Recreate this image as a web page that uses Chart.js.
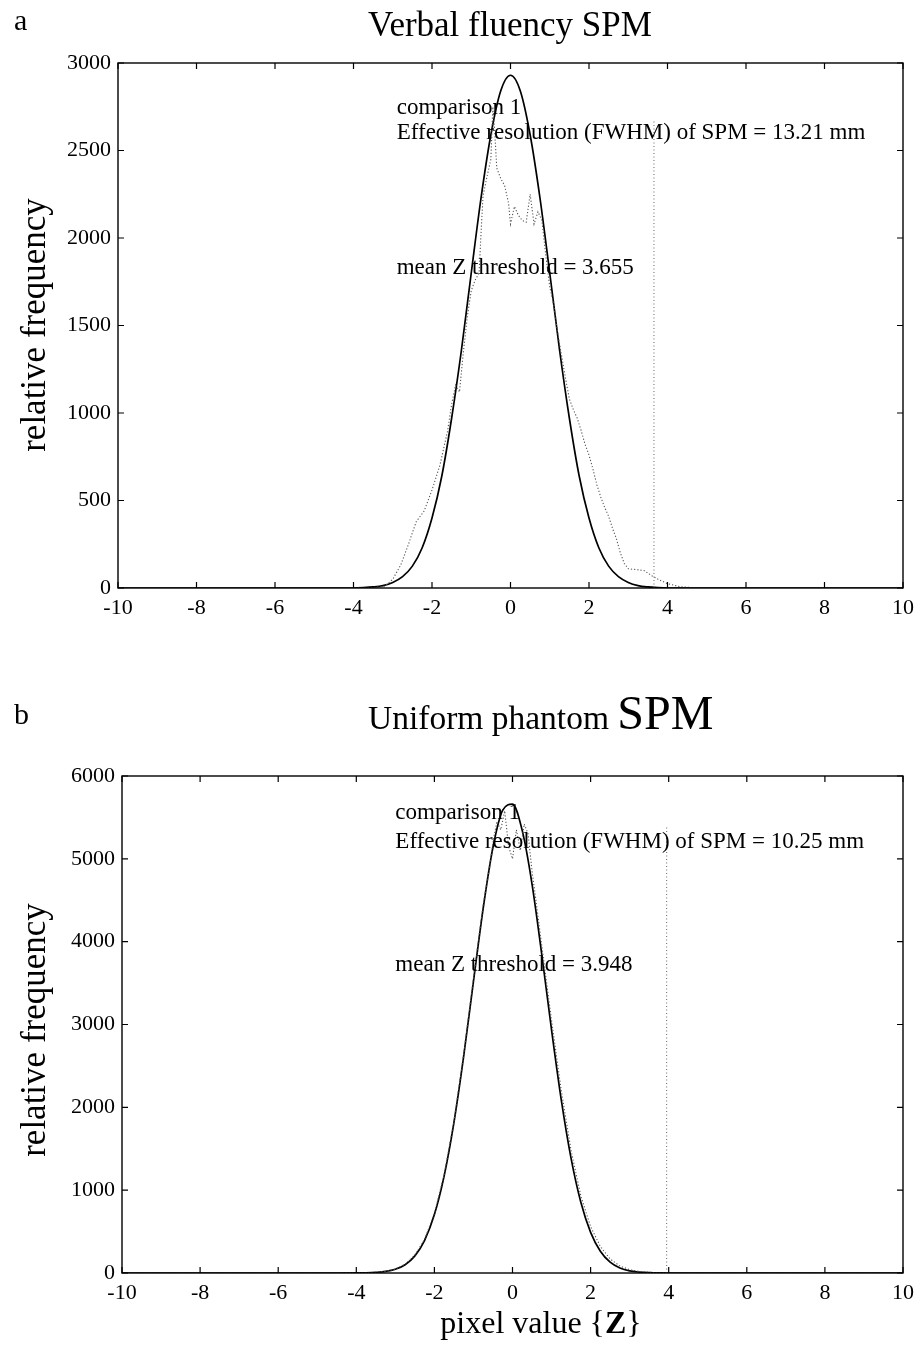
<!DOCTYPE html>
<html>
<head>
<meta charset="utf-8">
<script src="https://cdn.jsdelivr.net/npm/chart.js@4.4.1/dist/chart.umd.min.js"></script>
<style>
  body { margin: 0; background: #fff; }
  #page { position: relative; width: 921px; height: 1359px; background: #fff; font-family: "Liberation Serif", "DejaVu Serif", serif; color: #000; }
  canvas { position: absolute; left: 0; }
  .txt { position: absolute; white-space: nowrap; line-height: 1; }
  .ytitle { transform: translate(-50%, -50%) rotate(-90deg); font-size: 35px; }
</style>
</head>
<body>
<div id="page">
  <canvas id="chartA" width="921" height="640" style="top:0;width:921px;height:640px"></canvas>
  <canvas id="chartB" width="921" height="719" style="top:640px;width:921px;height:719px"></canvas>

  <div class="txt" style="left:14px;top:5px;font-size:30px">a</div>
  <div class="txt" style="left:368px;top:7px;font-size:35px">Verbal fluency SPM</div>
  <div class="txt ytitle" style="left:33px;top:325px">relative frequency</div>

  <div class="txt" style="left:14px;top:699px;font-size:30px">b</div>
  <div class="txt" style="left:368px;top:689px;font-size:33.5px">Uniform phantom <span style="font-size:48px">SPM</span></div>
  <div class="txt ytitle" style="left:33px;top:1030px">relative frequency</div>

  <div class="txt" style="left:541px;top:1322px;font-size:32px;transform:translate(-50%,-50%)">pixel value {<b>Z</b>}</div>
</div>
<script>
// x ticks shared by both panels
const zTicks = [-10, -8, -6, -4, -2, 0, 2, 4, 6, 8, 10];

// ---- panel a : verbal fluency ----
const fitAZ = [-10, -4.5, -4, -3.75, -3.5, -3.25, -3, -2.75, -2.5, -2.25, -2, -1.75, -1.5, -1.25, -1, -0.75, -0.5, -0.25, 0,
               0.25, 0.5, 0.75, 1, 1.25, 1.5, 1.75, 2, 2.25, 2.5, 2.75, 3, 3.25, 3.5, 3.75, 4, 4.5, 10];
const fitAFreq = [0, 0, 0, 2, 6, 14, 32, 65, 125, 230, 400, 640, 970, 1360, 1800, 2230, 2590, 2840, 2930,
                  2840, 2590, 2230, 1800, 1360, 970, 640, 400, 230, 125, 65, 32, 14, 6, 2, 0, 0, 0];

const histAZ = [-10, -4.5, -3.5, -3.2, -3.0, -2.8, -2.6, -2.4, -2.2, -2.0, -1.8, -1.6, -1.5, -1.4, -1.3, -1.2, -1.1, -1.0,
                -0.9, -0.8, -0.75, -0.7, -0.6, -0.5, -0.45, -0.4, -0.35, -0.25, -0.15, -0.05, 0, 0.1, 0.2, 0.3, 0.4,
                0.5, 0.6, 0.7, 0.8, 0.9, 1.0, 1.1, 1.2, 1.3, 1.4, 1.5, 1.6, 1.7, 1.8, 1.9, 2.0, 2.1, 2.2, 2.3, 2.4,
                2.5, 2.6, 2.7, 2.8, 2.9, 3.0, 3.2, 3.4, 3.6, 3.8, 4.0, 4.3, 4.8, 10];
const histAFreq = [0, 0, 2, 10, 50, 130, 250, 380, 440, 560, 700, 900, 1050, 1160, 1120, 1350, 1550, 1700,
                   1760, 1800, 2030, 2240, 2350, 2450, 2750, 2600, 2400, 2340, 2300, 2200, 2080, 2180, 2130, 2100, 2090,
                   2250, 2080, 2150, 2100, 1900, 1720, 1620, 1460, 1330, 1200, 1080, 1020, 970, 900, 820, 760, 680, 590, 520, 460,
                   410, 340, 280, 200, 140, 110, 105, 100, 70, 45, 25, 8, 0, 0];

const threshAZ = [3.655, 3.655];
const threshAFreq = [0, 2670];

// ---- panel b : uniform phantom ----
const fitBZ = [-10, -4.5, -4, -3.75, -3.5, -3.25, -3, -2.75, -2.5, -2.25, -2, -1.75, -1.5, -1.25, -1, -0.75, -0.5, -0.25, 0,
               0.25, 0.5, 0.75, 1, 1.25, 1.5, 1.75, 2, 2.25, 2.5, 2.75, 3, 3.25, 3.5, 3.75, 4, 4.5, 10];
const fitBFreq = [0, 0, 1, 3, 8, 19, 45, 100, 207, 395, 705, 1172, 1815, 2617, 3519, 4406, 5140, 5587, 5660,
                  5340, 4696, 3845, 2935, 2087, 1383, 854, 491, 263, 131, 61, 26, 11, 4, 1, 0, 0, 0];

const histBZ = [-10, -4.5, -4, -3.75, -3.5, -3.25, -3, -2.75, -2.5, -2.25, -2, -1.75, -1.5, -1.25, -1, -0.75, -0.6, -0.5,
                -0.4, -0.3, -0.2, -0.1, 0, 0.1, 0.2, 0.3, 0.4, 0.5, 0.6, 0.75, 1, 1.25, 1.5, 1.75, 2, 2.25, 2.5, 2.75,
                3, 3.25, 3.5, 3.75, 4, 4.5, 10];
const histBFreq = [0, 0, 2, 4, 9, 20, 48, 105, 215, 410, 720, 1190, 1830, 2640, 3560, 4450, 4850, 5200,
                   5450, 5350, 5580, 5150, 5000, 5350, 5100, 5420, 5300, 4850, 4500, 3950, 3050, 2200, 1480, 930, 560, 320, 170, 85,
                   40, 18, 8, 3, 1, 0, 0];

const threshBZ = [3.948, 3.948];
const threshBFreq = [0, 5400];

// in-plot notes
const notesA = [
  { text: 'comparison 1', z: -2.9, f: 2743 },
  { text: 'Effective resolution (FWHM) of SPM = 13.21 mm', z: -2.9, f: 2600 },
  { text: 'mean Z threshold = 3.655', z: -2.9, f: 1829 }
];
const notesB = [
  { text: 'comparison 1', z: -3.0, f: 5555 },
  { text: 'Effective resolution (FWHM) of SPM = 10.25 mm', z: -3.0, f: 5205 },
  { text: 'mean Z threshold = 3.948', z: -3.0, f: 3720 }
];

const serif = '"Liberation Serif", "DejaVu Serif", serif';

function pts(xs, ys) {
    return xs.map((v, i) => ({ x: v, y: ys[i] }));
}

// box, inward ticks on all four sides, and the text notes
const frame = {
    id: 'frame',
    afterDraw(chart, args, opts) {
        const { ctx, chartArea: a, scales: { x, y } } = chart;
        ctx.save();
        ctx.strokeStyle = '#000';
        ctx.lineWidth = 1.4;
        ctx.strokeRect(a.left, a.top, a.width, a.height);
        ctx.lineWidth = 1.2;
        ctx.beginPath();
        x.ticks.forEach(t => {
            const p = x.getPixelForValue(t.value);
            ctx.moveTo(p, a.bottom); ctx.lineTo(p, a.bottom - 6);
            ctx.moveTo(p, a.top); ctx.lineTo(p, a.top + 6);
        });
        y.ticks.forEach(t => {
            const p = y.getPixelForValue(t.value);
            ctx.moveTo(a.left, p); ctx.lineTo(a.left + 6, p);
            ctx.moveTo(a.right, p); ctx.lineTo(a.right - 6, p);
        });
        ctx.stroke();
        ctx.fillStyle = '#000';
        ctx.font = '23px ' + serif;
        ctx.textBaseline = 'middle';
        ctx.textAlign = 'left';
        opts.notes.forEach(n => {
            ctx.fillText(n.text, x.getPixelForValue(n.z), y.getPixelForValue(n.f));
        });
        ctx.restore();
    }
};

function makePanel(id, fit, hist, thresh, yMax, yStep, notes, pad, yWidth, xHeight) {
    return new Chart(document.getElementById(id), {
        type: 'scatter',
        data: {
            datasets: [
                {
                    data: hist,
                    showLine: true,
                    borderColor: '#555',
                    borderWidth: 1.1,
                    borderDash: [1.2, 2],
                    pointRadius: 0,
                    tension: 0
                },
                {
                    data: thresh,
                    showLine: true,
                    borderColor: '#666',
                    borderWidth: 1,
                    borderDash: [1, 2.5],
                    pointRadius: 0
                },
                {
                    data: fit,
                    showLine: true,
                    borderColor: '#000',
                    borderWidth: 1.7,
                    pointRadius: 0,
                    cubicInterpolationMode: 'monotone'
                }
            ]
        },
        options: {
            responsive: false,
            animation: false,
            layout: { padding: pad },
            plugins: {
                legend: { display: false },
                tooltip: { enabled: false },
                frame: { notes: notes }
            },
            scales: {
                x: {
                    type: 'linear',
                    min: -10,
                    max: 10,
                    afterBuildTicks: s => { s.ticks = zTicks.map(v => ({ value: v })); },
                    afterFit: s => { s.height = xHeight; },
                    grid: { display: false, drawTicks: false },
                    border: { display: false },
                    ticks: { color: '#000', padding: 7, font: { family: serif, size: 22 } }
                },
                y: {
                    min: 0,
                    max: yMax,
                    afterFit: s => { s.width = yWidth; },
                    grid: { display: false, drawTicks: false },
                    border: { display: false },
                    ticks: {
                        stepSize: yStep,
                        color: '#000',
                        padding: 7,
                        font: { family: serif, size: 22 },
                        callback: v => String(v)
                    }
                }
            }
        },
        plugins: [frame]
    });
}

makePanel('chartA', pts(fitAZ, fitAFreq), pts(histAZ, histAFreq), pts(threshAZ, threshAFreq),
          3000, 500, notesA, { top: 63, right: 17, left: 0, bottom: 0 }, 118, 52);
makePanel('chartB', pts(fitBZ, fitBFreq), pts(histBZ, histBFreq), pts(threshBZ, threshBFreq),
          6000, 1000, notesB, { top: 136, right: 13, left: 0, bottom: 0 }, 122, 86);
</script>
</body>
</html>
